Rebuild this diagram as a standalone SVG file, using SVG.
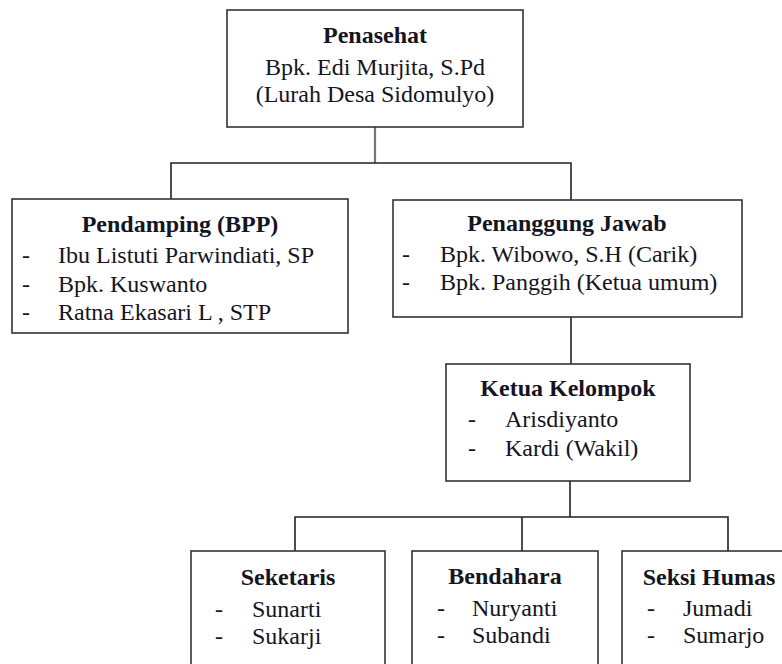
<svg xmlns="http://www.w3.org/2000/svg" width="782" height="664" viewBox="0 0 782 664" xml:space="preserve">
  <style>
    .box { fill: #ffffff; stroke: #333333; stroke-width: 1.6; }
    .link { fill: none; stroke: #222222; stroke-width: 1.6; }
    .link-top { fill: none; stroke: #777777; stroke-width: 2.2; }
    .t { font-family: 'Liberation Serif', 'Times New Roman', 'DejaVu Serif', serif; font-size: 24px; fill: #141423; }
    .title { font-weight: 700; text-anchor: middle; }
    .mid { text-anchor: middle; }
  </style>
  <rect width="782" height="664" fill="#ffffff"/>

  <!-- connectors -->
  <g id="connectors">
    <path class="link-top" d="M375,127 V163"/>
    <path class="link" d="M171,199 V163 H571 V200"/>
    <path class="link" d="M571,317 V364"/>
    <path class="link" d="M570,481 V517"/>
    <path class="link" d="M295,551 V517 H728 V551"/>
    <path class="link" d="M522,517 V551"/>
  </g>

  <!-- Penasehat -->
  <g id="penasehat" class="t">
    <rect class="box" x="227" y="10" width="296" height="117"/>
    <text class="title" x="375" y="43">Penasehat</text>
    <text class="mid" x="375" y="75">Bpk. Edi Murjita, S.Pd</text>
    <text class="mid" x="375" y="102">(Lurah Desa Sidomulyo)</text>
  </g>

  <!-- Pendamping (BPP) -->
  <g id="pendamping" class="t">
    <rect class="box" x="12" y="199" width="336" height="134"/>
    <text class="title" x="180" y="232">Pendamping (BPP)</text>
    <text x="22" y="263">-</text><text x="58" y="263">Ibu Listuti  Parwindiati, SP</text>
    <text x="22" y="292">-</text><text x="58" y="292">Bpk. Kuswanto</text>
    <text x="22" y="320">-</text><text x="58" y="320">Ratna Ekasari  L , STP</text>
  </g>

  <!-- Penanggung Jawab -->
  <g id="penanggung-jawab" class="t">
    <rect class="box" x="393" y="200" width="349" height="117"/>
    <text class="title" x="567" y="231">Penanggung Jawab</text>
    <text x="402" y="262">-</text><text x="440" y="262">Bpk. Wibowo,  S.H (Carik)</text>
    <text x="402" y="290">-</text><text x="440" y="290">Bpk. Panggih  (Ketua umum)</text>
  </g>

  <!-- Ketua Kelompok -->
  <g id="ketua-kelompok" class="t">
    <rect class="box" x="446" y="364" width="244" height="117"/>
    <text class="title" x="568" y="396">Ketua Kelompok</text>
    <text x="468" y="427">-</text><text x="505" y="427">Arisdiyanto</text>
    <text x="468" y="456">-</text><text x="505" y="456">Kardi (Wakil)</text>
  </g>

  <!-- Seketaris -->
  <g id="seketaris" class="t">
    <rect class="box" x="191" y="551" width="194" height="130"/>
    <text class="title" x="288" y="585">Seketaris</text>
    <text x="215" y="617">-</text><text x="252" y="617">Sunarti</text>
    <text x="215" y="644">-</text><text x="252" y="644">Sukarji</text>
  </g>

  <!-- Bendahara -->
  <g id="bendahara" class="t">
    <rect class="box" x="412" y="551" width="186" height="130"/>
    <text class="title" x="505" y="584">Bendahara</text>
    <text x="437" y="616">-</text><text x="472" y="616">Nuryanti</text>
    <text x="437" y="643">-</text><text x="472" y="643">Subandi</text>
  </g>

  <!-- Seksi Humas -->
  <g id="seksi-humas" class="t">
    <rect class="box" x="622" y="551" width="180" height="130"/>
    <text class="title" x="709" y="585">Seksi Humas</text>
    <text x="647" y="616">-</text><text x="683" y="616">Jumadi</text>
    <text x="647" y="643">-</text><text x="683" y="643">Sumarjo</text>
  </g>
</svg>
